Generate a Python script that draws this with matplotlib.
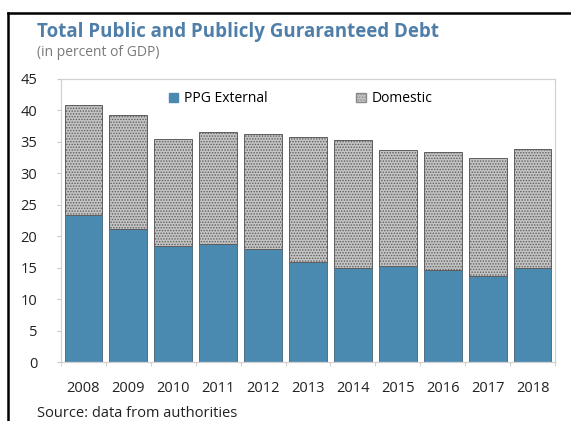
import matplotlib
matplotlib.use("Agg")
import matplotlib.pyplot as plt
import numpy as np
from matplotlib.lines import Line2D
from matplotlib.patches import Patch

plt.rcParams["font.family"] = ["Open Sans", "DejaVu Sans"]
plt.rcParams["hatch.linewidth"] = 0.7

# Public and publicly guaranteed debt, percent of GDP
years = ["2008", "2009", "2010", "2011", "2012", "2013",
         "2014", "2015", "2016", "2017", "2018"]
total_debt = [40.9, 39.2, 35.4, 36.6, 36.3, 35.8, 35.3, 33.7, 33.4, 32.5, 33.9]
ppg_external = [23.3, 21.1, 18.4, 18.7, 18.0, 15.9, 15.0, 15.2, 14.6, 13.7, 14.9]
domestic = [round(t - e, 1) for t, e in zip(total_debt, ppg_external)]

BLUE = "#4a89b0"
TITLE_BLUE = "#4f7fa9"
STIPPLE = "#c4c4c4"

fig = plt.figure(figsize=(5.71, 4.21), dpi=100)
ax = fig.add_axes([0.1068, 0.1401, 0.8652, 0.6723])

x = np.arange(len(years))
ax.bar(x, ppg_external, width=0.84, color=BLUE, edgecolor="#2f4f62",
       linewidth=0.5, zorder=2)
ax.bar(x, domestic, width=0.84, bottom=ppg_external, color=STIPPLE,
       edgecolor="#5e5e5e", hatch="......", linewidth=0.7, zorder=2)

ax.set_xlim(-0.5, len(years) - 0.5)
ax.set_ylim(0, 45)
ax.set_yticks(np.arange(0, 46, 5))
ax.set_xticks(x)
ax.set_xticklabels(years)
ax.set_xticks(np.arange(-0.5, len(years), 1), minor=True)
ax.tick_params(axis="x", which="major", length=0, pad=14, labelsize=10.5,
               labelcolor="#222222")
ax.tick_params(axis="x", which="minor", length=3, color="#c8c8c8")
ax.tick_params(axis="y", length=3, color="#c8c8c8", labelsize=10.5,
               labelcolor="#222222", pad=14)
for side in ax.spines.values():
    side.set_color("#d2d2d2")
    side.set_linewidth(0.9)

handles = [
    Patch(facecolor=BLUE, edgecolor=BLUE, label="PPG External"),
    Patch(facecolor=STIPPLE, edgecolor="#8a8a8a", hatch="......",
          label="Domestic"),
]
ax.legend(handles=handles, loc="upper center", ncol=2, frameon=False,
          fontsize=10, handlelength=0.7, handleheight=0.7,
          handletextpad=0.4, columnspacing=6.4,
          bbox_to_anchor=(0.485, 1.0))

fig.text(0.065, 0.925, "Total Public and Publicly Guraranteed Debt",
         fontsize=13.5, fontweight="bold", color=TITLE_BLUE,
         ha="left", va="center")
fig.text(0.065, 0.876, "(in percent of GDP)", fontsize=10,
         color="#7a7a7a", ha="left", va="center")
fig.text(0.065, 0.018, "Source: data from authorities", fontsize=10.5,
         color="#222222", ha="left", va="center")

# black frame along the top and left
fig.add_artist(Line2D([0.014, 1.0], [0.968, 0.968], color="black",
                      linewidth=1.8, transform=fig.transFigure))
fig.add_artist(Line2D([0.014, 0.014], [0.0, 0.968], color="black",
                      linewidth=1.8, transform=fig.transFigure))

fig.savefig("out.png", dpi=100)
